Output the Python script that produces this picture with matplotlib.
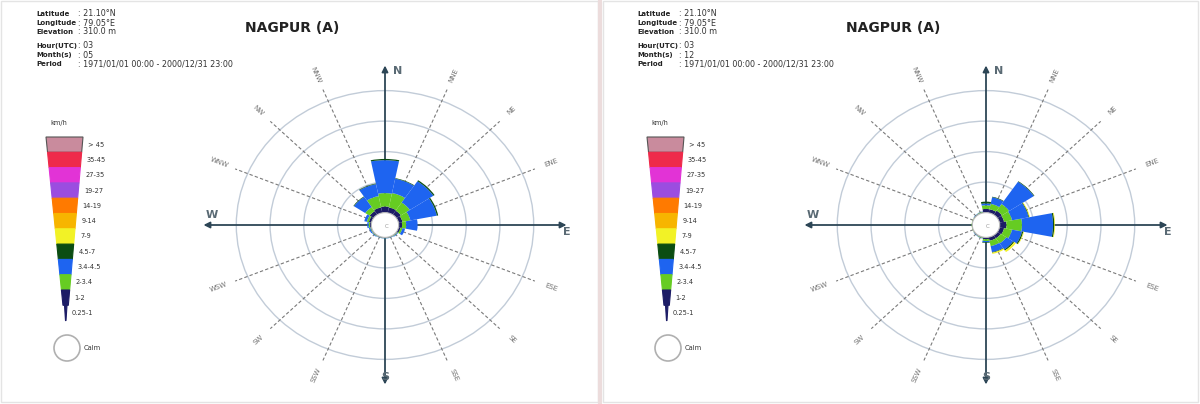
import numpy as np
import matplotlib
matplotlib.use("Agg")
import matplotlib.pyplot as plt
from matplotlib.patches import Wedge, Ellipse, Polygon, FancyArrowPatch

# ---- data -------------------------------------------------------------
directions = ["N", "NNE", "NE", "ENE", "E", "ESE", "SE", "SSE",
              "S", "SSW", "SW", "WSW", "W", "WNW", "NW", "NNW"]

# speed classes, legend order from top to bottom
speed_labels = ["> 45", "35-45", "27-35", "19-27", "14-19", "9-14",
                "7-9", "4.5-7", "3.4-4.5", "2-3.4", "1-2", "0.25-1"]
speed_colors = ["#c98b9d", "#ee2a4a", "#e233d6", "#9b4de0", "#ff7a00", "#f7b500",
                "#f2f226", "#0b4d12", "#1e64f0", "#66cc22", "#1c1c66", "#1c1c66"]

title = "NAGPUR (A)"
info_keys = ["Latitude", "Longitude", "Elevation", "Hour(UTC)", "Month(s)", "Period"]
left_info = [": 21.10°N", ": 79.05°E", ": 310.0 m", ": 03", ": 05",
             ": 1971/01/01 00:00 - 2000/12/31 23:00"]
right_info = [": 21.10°N", ": 79.05°E", ": 310.0 m", ": 03", ": 12",
              ": 1971/01/01 00:00 - 2000/12/31 23:00"]

# frequency (%) per direction for each speed class drawn in the roses
left_navy   = [1.0, 0.9, 0.8, 0.6, 0.5, 0.3, 0.1, 0.1, 0.1, 0.1, 0.1, 0.1, 0.2, 0.4, 0.7, 0.9]
left_green  = [2.2, 2.4, 1.6, 1.2, 0.6, 0.3, 0.1, 0.05, 0.05, 0.05, 0.1, 0.1, 0.2, 0.3, 0.8, 1.9]
left_blue   = [5.4, 2.4, 4.2, 4.0, 1.7, 0.4, 0.1, 0.05, 0.05, 0.05, 0.1, 0.2, 0.2, 0.4, 2.0, 2.0]
left_dkgrn  = [0.2, 0.1, 0.2, 0.2, 0.0, 0.0, 0.0, 0.0, 0.0, 0.0, 0.0, 0.0, 0.0, 0.0, 0.1, 0.1]

right_navy   = [0.6, 0.6, 0.8, 0.7, 1.0, 0.7, 0.6, 0.6, 0.3, 0.1, 0.1, 0.05, 0.05, 0.05, 0.1, 0.1]
right_green  = [0.6, 0.9, 1.3, 1.2, 2.3, 1.2, 1.0, 0.9, 0.3, 0.1, 0.05, 0.05, 0.05, 0.05, 0.05, 0.1]
right_blue   = [0.3, 1.1, 4.4, 2.5, 4.6, 1.5, 1.2, 1.0, 0.2, 0.05, 0.05, 0.0, 0.0, 0.0, 0.05, 0.05]
right_dkgrn  = [0.3, 0.1, 0.1, 0.1, 0.2, 0.2, 0.2, 0.1, 0.1, 0.0, 0.0, 0.0, 0.0, 0.0, 0.0, 0.0]
right_yellow = [0.0, 0.0, 0.0, 0.1, 0.1, 0.1, 0.3, 0.2, 0.0, 0.0, 0.0, 0.0, 0.0, 0.0, 0.0, 0.0]

ring_values = [5, 10, 15, 20]

# ---- layout / style ---------------------------------------------------
W, H = 1200, 404
CALM = 2.03            # radius of the calm circle, in % units
PX_X, PX_Y = 6.75, 6.1  # pixels per % unit horizontally / vertically
AXIS_EXT_X = 27.3
AXIS_EXT_Y = 26.6
DIAG_END = CALM + 22.0
LABEL_R = CALM + 24.6
rose_stack_colors = ["#1c1c66", "#66cc22", "#1e64f0", "#0b4d12", "#f2f226"]

fig = plt.figure(figsize=(W / 100, H / 100), dpi=100)
fig.patch.set_facecolor("white")
base = fig.add_axes([0, 0, 1, 1])
base.set_xlim(0, W)
base.set_ylim(H, 0)
base.axis("off")

# panel separator and frame
base.add_patch(plt.Rectangle((1, 1), 597, H - 3, fill=False, ec="#e4e4e4", lw=1))
base.add_patch(plt.Rectangle((603, 1), 595, H - 3, fill=False, ec="#e4e4e4", lw=1))
base.plot([600, 600], [0, H], color="#ecdcdc", lw=3)


def draw_panel(x0, info_vals, stacks):
    # station information block
    ys = [14, 23, 32, 46, 55, 64]
    for k, v, y in zip(info_keys, info_vals, ys):
        base.text(x0 + 36, y, k, fontsize=5.0, fontweight="bold", color="#222222",
                  va="center", ha="left")
        base.text(x0 + 78, y, v, fontsize=5.8, color="#333333", va="center", ha="left")
    base.text(x0 + 292, 28, title, fontsize=10, fontweight="bold", color="#222222",
              ha="center", va="center")

    # speed legend funnel
    top, bh = 137.0, 15.3
    n = len(speed_labels)
    lt, lb, rt, rb = 46.0, 64.5, 83.0, 67.0
    base.text(x0 + 50, 123, "km/h", fontsize=4.8, color="#333333", va="center")
    for i, (lab, col) in enumerate(zip(speed_labels, speed_colors)):
        y1, y2 = top + i * bh, top + (i + 1) * bh
        f1, f2 = i / n, (i + 1) / n
        xl1, xl2 = lt + (lb - lt) * f1, lt + (lb - lt) * f2
        xr1, xr2 = rt - (rt - rb) * f1, rt - (rt - rb) * f2
        if i == n - 1:
            xl1, xl2, xr1, xr2 = 64.5, 65.5, 67.0, 66.0
        ec = "#555555" if i == 0 else col
        base.add_patch(Polygon([(x0 + xl1, y1), (x0 + xr1, y1), (x0 + xr2, y2), (x0 + xl2, y2)],
                               closed=True, fc=col, ec=ec, lw=0.8))
        base.text(x0 + xr1 + 5, (y1 + y2) / 2, lab, fontsize=4.8, color="#333333",
                  va="center", ha="left")
    base.add_patch(Ellipse((x0 + 67, 348), 26, 26, fc="white", ec="#b0b0b0", lw=1.2))
    base.text(x0 + 84, 348, "Calm", fontsize=4.8, color="#333333", va="center")

    # wind rose axes
    cx, cy = x0 + 385, 225
    hw, hh = 200, 178
    ax = fig.add_axes([(cx - hw) / W, 1 - (cy + hh) / H, 2 * hw / W, 2 * hh / H])
    ax.set_xlim(-hw / PX_X, hw / PX_X)
    ax.set_ylim(-hh / PX_Y, hh / PX_Y)
    ax.axis("off")
    ax.patch.set_alpha(0)

    # rings
    for rv in ring_values:
        ax.add_patch(Ellipse((0, 0), 2 * (CALM + rv), 2 * (CALM + rv),
                             fill=False, ec="#c2ccd8", lw=1.0, zorder=1))

    # dashed direction lines and labels
    for i, d in enumerate(directions):
        if i % 4 == 0:
            continue
        a = np.deg2rad(90 - 22.5 * i)
        ax.plot([CALM * np.cos(a), DIAG_END * np.cos(a)],
                [CALM * np.sin(a), DIAG_END * np.sin(a)],
                color="#7a7a7a", lw=0.8, ls=(0, (3, 2)), zorder=2)
        rot = np.degrees(np.arctan2(np.sin(a) * PX_Y, np.cos(a) * PX_X))
        if rot > 90:
            rot -= 180
        elif rot <= -90:
            rot += 180
        ax.text(LABEL_R * np.cos(a), LABEL_R * np.sin(a), d, fontsize=5, color="#707070",
                rotation=rot, ha="center", va="center", zorder=2)

    # stacked wind bars
    inner = np.full(len(directions), CALM)
    for vals, col in zip(stacks, rose_stack_colors):
        for i, v in enumerate(vals):
            if v <= 0:
                continue
            th = 90 - 22.5 * i
            ax.add_patch(Wedge((0, 0), inner[i] + v, th - 11.25, th + 11.25, width=v,
                               fc=col, ec="none", zorder=4))
            inner[i] += v

    # calm circle
    ax.add_patch(Ellipse((0, 0), 2 * CALM, 2 * CALM, fc="white", ec="#bbbbbb", lw=0.8, zorder=5))
    ax.text(0.2, -0.3, "C", fontsize=4, color="#999999", ha="center", va="center", zorder=6)

    # main axes with arrows
    axis_col = "#2d4656"
    ax.add_patch(FancyArrowPatch((-AXIS_EXT_X, 0), (AXIS_EXT_X, 0), arrowstyle="<|-|>",
                                 mutation_scale=9, color=axis_col, lw=1.3, zorder=3))
    ax.add_patch(FancyArrowPatch((0, -AXIS_EXT_Y), (0, AXIS_EXT_Y), arrowstyle="<|-|>",
                                 mutation_scale=9, color=axis_col, lw=1.3, zorder=3))
    ax.text(1.2, AXIS_EXT_Y - 1.8, "N", fontsize=8, fontweight="bold", color="#5a6a74", zorder=6)
    ax.text(AXIS_EXT_X - 1.0, -1.6, "E", fontsize=8, fontweight="bold", color="#5a6a74", zorder=6)
    ax.text(-AXIS_EXT_X + 0.8, 1.2, "W", fontsize=8, fontweight="bold", color="#5a6a74", zorder=6)
    ax.text(-0.6, -AXIS_EXT_Y + 1.2, "S", fontsize=8, fontweight="bold", color="#5a6a74", zorder=6)


draw_panel(0, left_info, [left_navy, left_green, left_blue, left_dkgrn])
draw_panel(601, right_info, [right_navy, right_green, right_blue, right_dkgrn, right_yellow])

fig.savefig("out.png", dpi=100, facecolor="white")
